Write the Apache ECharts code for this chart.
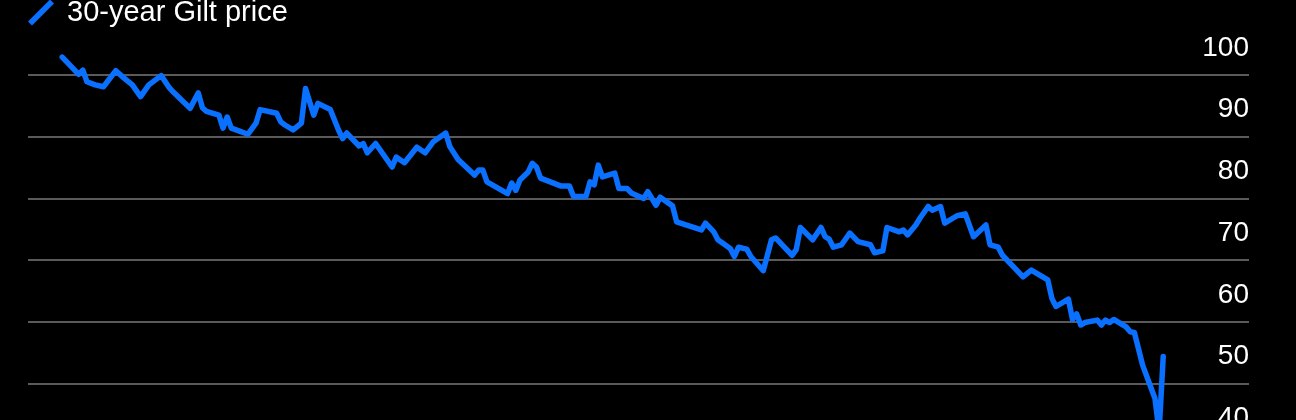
<!DOCTYPE html>
<html>
<head>
<meta charset="utf-8">
<script src="https://cdn.jsdelivr.net/npm/echarts@6/dist/echarts.min.js"></script>
<style>
html,body{margin:0;padding:0;background:#000;}
#chart{width:1296px;height:420px;}
</style>
</head>
<body>
<div id="chart"></div>
<script>
// Calendar days since 2022-01-04
const dayOffsets = [0,4,5,6,8,10,13,15,17,19,
21,24,26,27,31,33,34,35,38,39,
40,41,43,45,47,48,52,53,54,56,
58,59,61,62,65,67,68,69,72,73,
74,76,80,81,83,86,88,90,93,94,
96,100,101,102,103,108,109,110,111,113,
114,115,116,121,123,124,127,128,129,130,
131,134,135,137,138,141,142,144,145,148,
149,155,156,158,159,162,163,164,166,167,
170,172,173,175,177,178,179,182,184,185,
186,187,189,191,193,196,197,199,200,203,
204,205,207,208,210,211,213,214,217,219,
221,224,225,227,228,231,233,235,239,240,
241,244,245,246,247,248,251,252,253,254,
255,258,259,260,262,265,266,267];
const prices = [102.9,100.1,100.8,98.9,98.4,98.1,100.7,99.5,98.4,96.5,
98.4,99.9,97.9,97.2,94.6,97.1,94.7,94.1,93.5,91.4,
93.2,91.4,90.9,90.4,92.2,94.4,93.8,92.4,91.9,91.1,
92.2,97.8,93.5,95.4,94.4,91.1,89.7,90.6,88.5,88.9,
87.4,88.9,85.1,86.7,85.8,88.3,87.4,89.2,90.6,88.4,
86.3,83.8,84.6,84.6,82.7,80.8,82.5,81.3,83.0,84.3,
85.7,85.1,83.3,82.0,82.0,80.3,80.3,82.7,82.2,85.4,
83.5,84.1,81.6,81.6,80.9,80.0,81.1,78.9,80.2,78.8,
76.2,74.9,76.0,74.6,73.3,71.9,70.6,72.1,71.8,70.6,
68.3,73.3,73.6,72.2,70.8,71.7,75.3,73.3,75.3,73.8,
73.4,72.1,72.5,74.4,73.0,72.5,71.2,71.5,75.3,74.6,
74.9,74.1,75.7,76.8,78.7,78.1,78.7,76.0,77.2,77.5,
73.8,75.7,72.5,72.1,70.8,68.7,67.3,68.4,66.8,63.8,
62.5,63.7,60.4,61.3,59.5,59.9,60.3,59.5,60.3,59.9,
60.4,59.2,58.4,58.3,53.0,47.6,42.2,54.4];
const seriesName = '30-year Gilt price';
const yMin = 40, yMax = 100, yStep = 10;

const lineColor = '#0a70ff';
const chart = echarts.init(document.getElementById('chart'), null, {renderer: 'canvas'});
chart.setOption({
  backgroundColor: '#000',
  animation: false,
  legend: {
    data: [seriesName],
    left: 28,
    top: -2,
    padding: 0,
    itemWidth: 26,
    itemHeight: 26,
    icon: 'path://M0,22 L22,0 L26,4 L4,26 Z',
    itemStyle: {color: lineColor},
    textStyle: {color: '#fff', fontSize: 29, fontFamily: 'Liberation Sans', padding: [0,0,0,8]}
  },
  grid: {left: 28, width: 1221, top: 75, height: 370.4, containLabel: false, outerBoundsMode: 'none'},
  xAxis: {
    type: 'value', min: -8.3, max: 287.8, show: false
  },
  yAxis: {
    type: 'value', position: 'right', min: yMin, max: yMax, interval: yStep,
    axisLine: {show: false}, axisTick: {show: false},
    splitLine: {show: true, lineStyle: {color: '#5a5a5a', width: 2}},
    axisLabel: {
      inside: true, margin: 0, color: '#fff', fontSize: 28, fontFamily: 'Liberation Sans',
      verticalAlign: 'bottom', lineHeight: 28, padding: [0,0,13,0]
    }
  },
  series: [{
    name: seriesName,
    type: 'line',
    data: dayOffsets.map((d, i) => [d, prices[i]]),
    showSymbol: false,
    clip: false,
    lineStyle: {color: lineColor, width: 5.5, cap: 'round', join: 'round'},
    itemStyle: {color: lineColor}
  }]
});
</script>
</body>
</html>
